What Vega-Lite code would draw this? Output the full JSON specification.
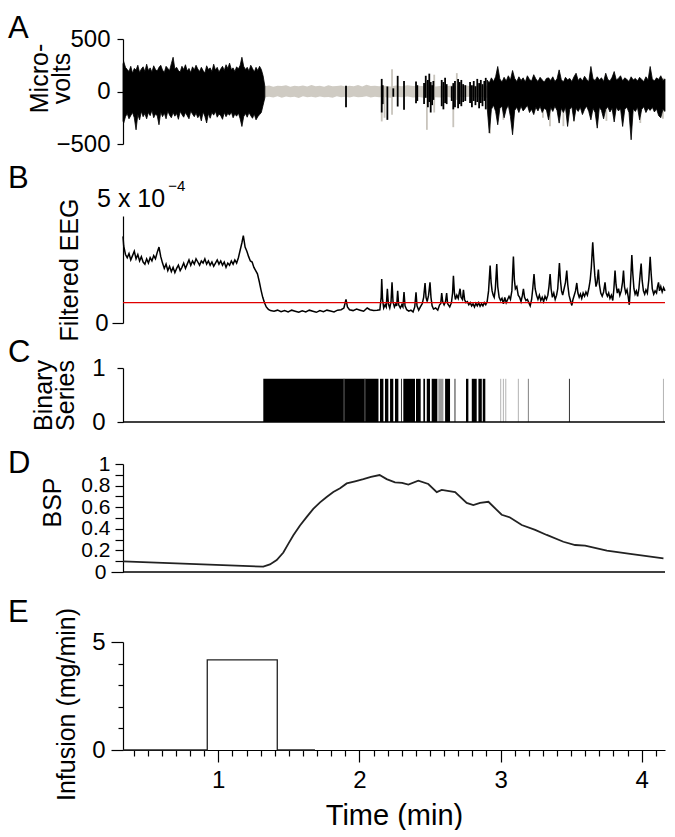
{
"$schema": "https://vega.github.io/schema/vega-lite/v6.json",
"padding": {"left": 8, "top": 13, "right": 5, "bottom": 0},
"bounds": "flush",
"spacing": 0,
"config": {
  "view": {"stroke": null},
  "font": "Liberation Sans",
  "axis": {"labelFont": "Liberation Sans", "titleFont": "Liberation Sans", "labelFontSize": 24, "titleFontSize": 25, "titleFontWeight": "normal", "labelColor": "#000", "titleColor": "#000", "domainColor": "#000", "tickColor": "#000", "domainWidth": 1.2, "tickWidth": 1.2, "grid": false, "labelOverlap": false, "labelFlush": false, "labelBound": false},
  "title": {"font": "Liberation Sans", "fontSize": 31, "fontWeight": "normal", "color": "#000", "anchor": "start", "frame": "group", "baseline": "alphabetic"}
},
"datasets": {
"band": [
{"t":1.33,"lo":-55,"hi":50},{"t":1.36,"lo":-50,"hi":58},{"t":1.39,"lo":-58,"hi":45},{"t":1.42,"lo":-45,"hi":55},{"t":1.45,"lo":-60,"hi":52},{"t":1.48,"lo":-48,"hi":60},{"t":1.51,"lo":-55,"hi":45},{"t":1.54,"lo":-50,"hi":55},{"t":1.57,"lo":-62,"hi":50},{"t":1.6,"lo":-45,"hi":58},{"t":1.63,"lo":-55,"hi":48},{"t":1.66,"lo":-50,"hi":62},{"t":1.69,"lo":-58,"hi":50},{"t":1.72,"lo":-48,"hi":55},{"t":1.75,"lo":-55,"hi":45},{"t":1.78,"lo":-52,"hi":60},{"t":1.81,"lo":-60,"hi":50},{"t":1.84,"lo":-45,"hi":52},{"t":1.87,"lo":-55,"hi":58},{"t":1.9,"lo":-50,"hi":48},{"t":1.93,"lo":-58,"hi":55},{"t":1.96,"lo":-48,"hi":50},{"t":1.99,"lo":-55,"hi":62},{"t":2.02,"lo":-52,"hi":48},{"t":2.05,"lo":-45,"hi":65},{"t":2.08,"lo":-58,"hi":52},{"t":2.11,"lo":-50,"hi":55},{"t":2.14,"lo":-55,"hi":50},{"t":2.18,"lo":-52,"hi":55},{"t":2.22,"lo":-60,"hi":48},{"t":2.26,"lo":-50,"hi":58},{"t":2.3,"lo":-55,"hi":50},{"t":2.34,"lo":-48,"hi":60},{"t":2.38,"lo":-58,"hi":52},{"t":2.42,"lo":-52,"hi":55},{"t":2.46,"lo":-60,"hi":50},{"t":2.5,"lo":-50,"hi":62},{"t":2.54,"lo":-55,"hi":48},{"t":2.58,"lo":-58,"hi":55},{"t":2.62,"lo":-50,"hi":52},{"t":2.66,"lo":-62,"hi":58},{"t":2.7,"lo":-52,"hi":50},{"t":2.74,"lo":-55,"hi":60},{"t":2.78,"lo":-50,"hi":52},{"t":2.82,"lo":-58,"hi":55},{"t":2.86,"lo":-52,"hi":58},{"t":2.9,"lo":-60,"hi":55},{"t":3.0,"lo":-60,"hi":55},{"t":3.2,"lo":-65,"hi":60},{"t":3.4,"lo":-60,"hi":58},{"t":3.6,"lo":-62,"hi":60},{"t":3.8,"lo":-58,"hi":55},{"t":4.0,"lo":-62,"hi":60},{"t":4.165,"lo":-60,"hi":58}
],
"eeg": [
{"t":2.158,"lo":-285,"hi":60,"c":"g"},{"t":2.178,"lo":-250,"hi":40,"c":"g"},{"t":2.231,"lo":-222,"hi":212,"c":"g"},{"t":2.478,"lo":-365,"hi":100,"c":"g"},{"t":2.53,"lo":-200,"hi":160,"c":"g"},{"t":2.665,"lo":-340,"hi":60,"c":"g"},{"t":2.69,"lo":-80,"hi":175,"c":"g"},{"t":2.926,"lo":-400,"hi":60,"c":"g"},{"t":3.02,"lo":-270,"hi":100,"c":"g"},{"t":3.3,"lo":-250,"hi":90,"c":"g"},{"t":3.35,"lo":-330,"hi":80,"c":"g"},{"t":3.445,"lo":-330,"hi":80,"c":"g"},{"t":3.52,"lo":-290,"hi":110,"c":"g"},{"t":3.75,"lo":-280,"hi":120,"c":"g"},{"t":3.99,"lo":-300,"hi":110,"c":"g"},{"t":4.15,"lo":-260,"hi":130,"c":"g"},
{"t":1.905,"lo":-149,"hi":54,"c":"k"},{"t":2.158,"lo":-200,"hi":120,"c":"k"},{"t":2.165,"lo":-120,"hi":60,"c":"k"},{"t":2.198,"lo":-270,"hi":48,"c":"k"},{"t":2.24,"lo":-50,"hi":30,"c":"k"},{"t":2.271,"lo":-143,"hi":149,"c":"k"},{"t":2.316,"lo":-174,"hi":101,"c":"k"},{"t":2.401,"lo":-111,"hi":95,"c":"k"},{"t":2.41,"lo":-90,"hi":60,"c":"k"},{"t":2.458,"lo":-120,"hi":80,"c":"k"},{"t":2.47,"lo":-60,"hi":150,"c":"k"},{"t":2.485,"lo":-150,"hi":110,"c":"k"},{"t":2.495,"lo":-100,"hi":170,"c":"k"},{"t":2.505,"lo":-200,"hi":90,"c":"k"},{"t":2.515,"lo":-130,"hi":60,"c":"k"},{"t":2.524,"lo":-80,"hi":100,"c":"k"},{"t":2.583,"lo":-140,"hi":110,"c":"k"},{"t":2.595,"lo":-170,"hi":90,"c":"k"},{"t":2.607,"lo":-110,"hi":130,"c":"k"},{"t":2.618,"lo":-120,"hi":70,"c":"k"},{"t":2.654,"lo":-90,"hi":50,"c":"k"},{"t":2.665,"lo":-170,"hi":80,"c":"k"},{"t":2.677,"lo":-150,"hi":100,"c":"k"},{"t":2.699,"lo":-160,"hi":120,"c":"k"},{"t":2.71,"lo":-120,"hi":90,"c":"k"},{"t":2.722,"lo":-140,"hi":110,"c":"k"},{"t":2.735,"lo":-100,"hi":70,"c":"k"},{"t":2.75,"lo":-90,"hi":60,"c":"k"},{"t":2.784,"lo":-110,"hi":90,"c":"k"},{"t":2.797,"lo":-150,"hi":60,"c":"k"},{"t":2.81,"lo":-90,"hi":100,"c":"k"},{"t":2.822,"lo":-130,"hi":50,"c":"k"},{"t":2.835,"lo":-100,"hi":120,"c":"k"},{"t":2.848,"lo":-160,"hi":80,"c":"k"},{"t":2.86,"lo":-110,"hi":110,"c":"k"},{"t":2.872,"lo":-140,"hi":70,"c":"k"},{"t":2.885,"lo":-90,"hi":100,"c":"k"},{"t":2.895,"lo":-170,"hi":130,"c":"k"}
],
"blk": [
{"seg":"s1","t":0.325,"lo":-280,"hi":260},{"seg":"s1","t":0.33,"lo":-300,"hi":285},{"seg":"s1","t":0.3425,"lo":-240,"hi":230},{"seg":"s1","t":0.355,"lo":-210,"hi":210},{"seg":"s1","t":0.3675,"lo":-260,"hi":190},{"seg":"s1","t":0.38,"lo":-230,"hi":240},{"seg":"s1","t":0.3925,"lo":-200,"hi":175},{"seg":"s1","t":0.405,"lo":-250,"hi":220},{"seg":"s1","t":0.4175,"lo":-365,"hi":205},{"seg":"s1","t":0.43,"lo":-220,"hi":250},{"seg":"s1","t":0.4425,"lo":-270,"hi":180},{"seg":"s1","t":0.455,"lo":-190,"hi":215},{"seg":"s1","t":0.4675,"lo":-240,"hi":235},{"seg":"s1","t":0.48,"lo":-210,"hi":190},{"seg":"s1","t":0.4925,"lo":-260,"hi":260},{"seg":"s1","t":0.505,"lo":-200,"hi":200},{"seg":"s1","t":0.5175,"lo":-230,"hi":225},{"seg":"s1","t":0.53,"lo":-180,"hi":185},{"seg":"s1","t":0.5425,"lo":-250,"hi":245},{"seg":"s1","t":0.555,"lo":-215,"hi":210},{"seg":"s1","t":0.5675,"lo":-230,"hi":195},{"seg":"s1","t":0.58,"lo":-317,"hi":230},{"seg":"s1","t":0.5925,"lo":-195,"hi":250},{"seg":"s1","t":0.605,"lo":-240,"hi":205},{"seg":"s1","t":0.6175,"lo":-205,"hi":180},{"seg":"s1","t":0.63,"lo":-260,"hi":240},{"seg":"s1","t":0.6425,"lo":-185,"hi":220},{"seg":"s1","t":0.655,"lo":-225,"hi":200},{"seg":"s1","t":0.6675,"lo":-250,"hi":265},{"seg":"s1","t":0.68,"lo":-200,"hi":326},{"seg":"s1","t":0.6925,"lo":-235,"hi":215},{"seg":"s1","t":0.705,"lo":-210,"hi":230},{"seg":"s1","t":0.7175,"lo":-265,"hi":200},{"seg":"s1","t":0.73,"lo":-190,"hi":185},{"seg":"s1","t":0.7425,"lo":-220,"hi":240},{"seg":"s1","t":0.755,"lo":-245,"hi":210},{"seg":"s1","t":0.7675,"lo":-200,"hi":255},{"seg":"s1","t":0.78,"lo":-230,"hi":195},{"seg":"s1","t":0.7925,"lo":-260,"hi":220},{"seg":"s1","t":0.805,"lo":-185,"hi":180},{"seg":"s1","t":0.8175,"lo":-215,"hi":235},{"seg":"s1","t":0.83,"lo":-240,"hi":205},{"seg":"s1","t":0.8425,"lo":-205,"hi":250},{"seg":"s1","t":0.855,"lo":-250,"hi":215},{"seg":"s1","t":0.8675,"lo":-220,"hi":190},{"seg":"s1","t":0.88,"lo":-280,"hi":230},{"seg":"s1","t":0.8925,"lo":-195,"hi":200},{"seg":"s1","t":0.905,"lo":-235,"hi":175},{"seg":"s1","t":0.9175,"lo":-300,"hi":245},{"seg":"s1","t":0.93,"lo":-210,"hi":210},{"seg":"s1","t":0.9425,"lo":-255,"hi":225},{"seg":"s1","t":0.955,"lo":-200,"hi":190},{"seg":"s1","t":0.9675,"lo":-225,"hi":260},{"seg":"s1","t":0.98,"lo":-190,"hi":205},{"seg":"s1","t":0.9925,"lo":-245,"hi":230},{"seg":"s1","t":1.005,"lo":-215,"hi":185},{"seg":"s1","t":1.0175,"lo":-230,"hi":215},{"seg":"s1","t":1.03,"lo":-265,"hi":240},{"seg":"s1","t":1.0425,"lo":-200,"hi":200},{"seg":"s1","t":1.055,"lo":-240,"hi":255},{"seg":"s1","t":1.0675,"lo":-210,"hi":220},{"seg":"s1","t":1.08,"lo":-225,"hi":270},{"seg":"s1","t":1.0925,"lo":-195,"hi":210},{"seg":"s1","t":1.105,"lo":-250,"hi":225},{"seg":"s1","t":1.1175,"lo":-215,"hi":190},{"seg":"s1","t":1.13,"lo":-235,"hi":235},{"seg":"s1","t":1.1425,"lo":-205,"hi":215},{"seg":"s1","t":1.155,"lo":-260,"hi":250},{"seg":"s1","t":1.1675,"lo":-333,"hi":326},{"seg":"s1","t":1.18,"lo":-240,"hi":240},{"seg":"s1","t":1.1925,"lo":-210,"hi":210},{"seg":"s1","t":1.205,"lo":-245,"hi":230},{"seg":"s1","t":1.2175,"lo":-200,"hi":195},{"seg":"s1","t":1.23,"lo":-230,"hi":250},{"seg":"s1","t":1.2425,"lo":-255,"hi":220},{"seg":"s1","t":1.255,"lo":-215,"hi":185},{"seg":"s1","t":1.2675,"lo":-270,"hi":230},{"seg":"s1","t":1.28,"lo":-240,"hi":200},{"seg":"s1","t":1.2925,"lo":-220,"hi":240},{"seg":"s1","t":1.305,"lo":-200,"hi":210},{"seg":"s1","t":1.3175,"lo":-130,"hi":150},{"seg":"s1","t":1.33,"lo":-60,"hi":50},
{"seg":"s2","t":2.905,"lo":-150,"hi":110},{"seg":"s2","t":2.92,"lo":-396,"hi":80},{"seg":"s2","t":2.935,"lo":-170,"hi":130},{"seg":"s2","t":2.95,"lo":-130,"hi":95},{"seg":"s2","t":2.965,"lo":-190,"hi":140},{"seg":"s2","t":2.98,"lo":-317,"hi":238},{"seg":"s2","t":2.995,"lo":-160,"hi":120},{"seg":"s2","t":3.01,"lo":-140,"hi":90},{"seg":"s2","t":3.025,"lo":-250,"hi":135},{"seg":"s2","t":3.04,"lo":-170,"hi":100},{"seg":"s2","t":3.055,"lo":-130,"hi":150},{"seg":"s2","t":3.07,"lo":-240,"hi":110},{"seg":"s2","t":3.085,"lo":-412,"hi":200},{"seg":"s2","t":3.1,"lo":-180,"hi":125},{"seg":"s2","t":3.115,"lo":-150,"hi":95},{"seg":"s2","t":3.13,"lo":-200,"hi":140},{"seg":"s2","t":3.145,"lo":-140,"hi":105},{"seg":"s2","t":3.16,"lo":-185,"hi":130},{"seg":"s2","t":3.175,"lo":-160,"hi":90},{"seg":"s2","t":3.19,"lo":-130,"hi":150},{"seg":"s2","t":3.205,"lo":-200,"hi":115},{"seg":"s2","t":3.22,"lo":-170,"hi":100},{"seg":"s2","t":3.235,"lo":-220,"hi":160},{"seg":"s2","t":3.25,"lo":-150,"hi":120},{"seg":"s2","t":3.265,"lo":-185,"hi":95},{"seg":"s2","t":3.28,"lo":-140,"hi":135},{"seg":"s2","t":3.295,"lo":-200,"hi":110},{"seg":"s2","t":3.31,"lo":-160,"hi":90},{"seg":"s2","t":3.325,"lo":-175,"hi":125},{"seg":"s2","t":3.34,"lo":-270,"hi":130},{"seg":"s2","t":3.355,"lo":-150,"hi":105},{"seg":"s2","t":3.37,"lo":-190,"hi":140},{"seg":"s2","t":3.385,"lo":-140,"hi":95},{"seg":"s2","t":3.4,"lo":-180,"hi":120},{"seg":"s2","t":3.415,"lo":-301,"hi":206},{"seg":"s2","t":3.43,"lo":-160,"hi":115},{"seg":"s2","t":3.445,"lo":-200,"hi":90},{"seg":"s2","t":3.46,"lo":-150,"hi":135},{"seg":"s2","t":3.475,"lo":-333,"hi":110},{"seg":"s2","t":3.49,"lo":-170,"hi":125},{"seg":"s2","t":3.505,"lo":-145,"hi":95},{"seg":"s2","t":3.52,"lo":-280,"hi":140},{"seg":"s2","t":3.535,"lo":-160,"hi":174},{"seg":"s2","t":3.55,"lo":-190,"hi":105},{"seg":"s2","t":3.565,"lo":-150,"hi":130},{"seg":"s2","t":3.58,"lo":-220,"hi":100},{"seg":"s2","t":3.595,"lo":-170,"hi":145},{"seg":"s2","t":3.61,"lo":-140,"hi":115},{"seg":"s2","t":3.625,"lo":-190,"hi":95},{"seg":"s2","t":3.64,"lo":-270,"hi":238},{"seg":"s2","t":3.655,"lo":-160,"hi":120},{"seg":"s2","t":3.67,"lo":-200,"hi":105},{"seg":"s2","t":3.685,"lo":-349,"hi":140},{"seg":"s2","t":3.7,"lo":-150,"hi":110},{"seg":"s2","t":3.715,"lo":-180,"hi":130},{"seg":"s2","t":3.73,"lo":-260,"hi":95},{"seg":"s2","t":3.745,"lo":-170,"hi":174},{"seg":"s2","t":3.76,"lo":-145,"hi":115},{"seg":"s2","t":3.775,"lo":-195,"hi":100},{"seg":"s2","t":3.79,"lo":-160,"hi":135},{"seg":"s2","t":3.805,"lo":-290,"hi":190},{"seg":"s2","t":3.82,"lo":-150,"hi":110},{"seg":"s2","t":3.835,"lo":-185,"hi":125},{"seg":"s2","t":3.85,"lo":-165,"hi":150},{"seg":"s2","t":3.865,"lo":-333,"hi":100},{"seg":"s2","t":3.88,"lo":-170,"hi":130},{"seg":"s2","t":3.895,"lo":-150,"hi":115},{"seg":"s2","t":3.91,"lo":-200,"hi":95},{"seg":"s2","t":3.925,"lo":-460,"hi":140},{"seg":"s2","t":3.94,"lo":-165,"hi":110},{"seg":"s2","t":3.955,"lo":-190,"hi":125},{"seg":"s2","t":3.97,"lo":-150,"hi":100},{"seg":"s2","t":3.985,"lo":-270,"hi":135},{"seg":"s2","t":4.0,"lo":-170,"hi":115},{"seg":"s2","t":4.015,"lo":-145,"hi":95},{"seg":"s2","t":4.03,"lo":-200,"hi":140},{"seg":"s2","t":4.045,"lo":-160,"hi":110},{"seg":"s2","t":4.06,"lo":-180,"hi":238},{"seg":"s2","t":4.075,"lo":-150,"hi":120},{"seg":"s2","t":4.09,"lo":-195,"hi":100},{"seg":"s2","t":4.105,"lo":-165,"hi":130},{"seg":"s2","t":4.12,"lo":-230,"hi":115},{"seg":"s2","t":4.135,"lo":-250,"hi":150},{"seg":"s2","t":4.15,"lo":-170,"hi":105},{"seg":"s2","t":4.165,"lo":-190,"hi":120}
],
"filt": [
{"t":0.325,"v":4.05},{"t":0.33,"v":3.6},{"t":0.3425,"v":3.2},{"t":0.355,"v":3.05},{"t":0.3675,"v":3.25},{"t":0.38,"v":2.95},{"t":0.3925,"v":3.15},{"t":0.405,"v":3.35},{"t":0.4175,"v":3.0},{"t":0.43,"v":3.2},{"t":0.4425,"v":2.9},{"t":0.455,"v":3.1},{"t":0.4675,"v":2.85},{"t":0.48,"v":2.75},{"t":0.4925,"v":3.0},{"t":0.505,"v":2.8},{"t":0.5175,"v":3.05},{"t":0.53,"v":2.9},{"t":0.5425,"v":3.15},{"t":0.555,"v":3.0},{"t":0.5675,"v":3.3},{"t":0.58,"v":3.55},{"t":0.5925,"v":3.1},{"t":0.605,"v":2.8},{"t":0.6175,"v":2.55},{"t":0.63,"v":2.75},{"t":0.6425,"v":2.45},{"t":0.655,"v":2.65},{"t":0.6675,"v":2.4},{"t":0.68,"v":2.6},{"t":0.6925,"v":2.35},{"t":0.705,"v":2.55},{"t":0.7175,"v":2.7},{"t":0.73,"v":2.45},{"t":0.7425,"v":2.6},{"t":0.755,"v":2.8},{"t":0.7675,"v":2.55},{"t":0.78,"v":2.75},{"t":0.7925,"v":2.95},{"t":0.805,"v":2.7},{"t":0.8175,"v":2.9},{"t":0.83,"v":2.75},{"t":0.8425,"v":3.0},{"t":0.855,"v":2.85},{"t":0.8675,"v":2.7},{"t":0.88,"v":2.9},{"t":0.8925,"v":2.8},{"t":0.905,"v":3.0},{"t":0.9175,"v":2.75},{"t":0.93,"v":2.9},{"t":0.9425,"v":2.7},{"t":0.955,"v":2.85},{"t":0.9675,"v":2.65},{"t":0.98,"v":2.8},{"t":0.9925,"v":2.95},{"t":1.005,"v":2.75},{"t":1.0175,"v":2.9},{"t":1.03,"v":2.7},{"t":1.0425,"v":2.85},{"t":1.055,"v":2.6},{"t":1.0675,"v":2.8},{"t":1.08,"v":2.7},{"t":1.0925,"v":2.9},{"t":1.105,"v":2.75},{"t":1.1175,"v":2.95},{"t":1.13,"v":2.8},{"t":1.1425,"v":3.05},{"t":1.155,"v":3.4},{"t":1.1675,"v":3.75},{"t":1.1775,"v":4.08},{"t":1.19,"v":3.55},{"t":1.2025,"v":3.35},{"t":1.215,"v":3.1},{"t":1.2275,"v":2.9},{"t":1.24,"v":2.85},{"t":1.2525,"v":2.6},{"t":1.265,"v":2.45},{"t":1.2775,"v":2.3},{"t":1.29,"v":1.95},{"t":1.3025,"v":1.55},{"t":1.315,"v":1.2},{"t":1.3275,"v":0.95},{"t":1.34,"v":0.75},{"t":1.355,"v":0.64},{"t":1.37,"v":0.58},
{"t":1.395,"v":0.55},{"t":1.42,"v":0.6},{"t":1.445,"v":0.53},{"t":1.47,"v":0.58},{"t":1.495,"v":0.52},{"t":1.52,"v":0.6},{"t":1.545,"v":0.55},{"t":1.57,"v":0.5},{"t":1.595,"v":0.57},{"t":1.62,"v":0.52},{"t":1.645,"v":0.6},{"t":1.67,"v":0.55},{"t":1.695,"v":0.5},{"t":1.72,"v":0.58},{"t":1.745,"v":0.53},{"t":1.77,"v":0.6},{"t":1.795,"v":0.56},{"t":1.82,"v":0.52},{"t":1.845,"v":0.6},{"t":1.87,"v":0.62},{"t":1.89,"v":0.7},{"t":1.905,"v":1.1},{"t":1.915,"v":0.75},{"t":1.93,"v":0.62},{"t":1.955,"v":0.58},{"t":1.98,"v":0.65},{"t":2.005,"v":0.6},{"t":2.03,"v":0.55},{"t":2.055,"v":0.7},{"t":2.075,"v":0.62},{"t":2.1,"v":0.58},{"t":2.125,"v":0.6},{"t":2.145,"v":0.62},
{"t":2.154,"v":1.2},{"t":2.158,"v":2.06},{"t":2.164,"v":1.1},{"t":2.172,"v":0.7},{"t":2.182,"v":0.85},{"t":2.19,"v":0.75},{"t":2.198,"v":1.6},{"t":2.205,"v":0.9},{"t":2.215,"v":0.7},{"t":2.224,"v":1.0},{"t":2.231,"v":1.9},{"t":2.238,"v":1.0},{"t":2.248,"v":0.75},{"t":2.258,"v":0.9},{"t":2.264,"v":0.8},{"t":2.271,"v":1.51},{"t":2.278,"v":0.85},{"t":2.29,"v":0.7},{"t":2.3,"v":0.85},{"t":2.308,"v":0.75},{"t":2.316,"v":1.45},{"t":2.323,"v":0.8},{"t":2.335,"v":0.62},{"t":2.35,"v":0.55},{"t":2.365,"v":0.6},{"t":2.38,"v":0.52},{"t":2.392,"v":0.75},{"t":2.401,"v":1.43},{"t":2.408,"v":0.8},{"t":2.42,"v":0.6},{"t":2.432,"v":0.75},{"t":2.445,"v":0.9},{"t":2.455,"v":1.2},{"t":2.465,"v":1.87},{"t":2.472,"v":1.2},{"t":2.48,"v":1.0},{"t":2.49,"v":1.3},{"t":2.5,"v":1.9},{"t":2.507,"v":1.2},{"t":2.515,"v":0.8},{"t":2.525,"v":0.65},{"t":2.54,"v":0.7},{"t":2.555,"v":0.6},{"t":2.568,"v":0.85},{"t":2.576,"v":0.9},{"t":2.583,"v":1.4},{"t":2.59,"v":1.0},{"t":2.6,"v":0.85},{"t":2.61,"v":1.0},{"t":2.618,"v":1.4},{"t":2.625,"v":0.9},{"t":2.64,"v":0.75},{"t":2.652,"v":0.95},{"t":2.66,"v":1.4},{"t":2.666,"v":2.21},{"t":2.673,"v":1.4},{"t":2.68,"v":1.1},{"t":2.69,"v":1.3},{"t":2.7,"v":1.15},{"t":2.713,"v":1.6},{"t":2.72,"v":1.2},{"t":2.73,"v":1.1},{"t":2.737,"v":1.55},{"t":2.745,"v":1.1},{"t":2.755,"v":0.95},{"t":2.765,"v":1.0},{"t":2.775,"v":0.85},{"t":2.785,"v":0.95},{"t":2.795,"v":0.8},{"t":2.805,"v":0.9},{"t":2.815,"v":0.75},{"t":2.825,"v":0.92},{"t":2.835,"v":0.8},{"t":2.845,"v":0.95},{"t":2.855,"v":0.78},{"t":2.865,"v":0.9},{"t":2.875,"v":0.8},{"t":2.885,"v":0.95},{"t":2.895,"v":0.85},{"t":2.905,"v":1.0},{"t":2.915,"v":1.5},{"t":2.926,"v":2.68},{"t":2.933,"v":1.9},{"t":2.94,"v":1.5},{"t":2.948,"v":1.3},{"t":2.955,"v":1.2},{"t":2.963,"v":1.6},{"t":2.973,"v":2.75},{"t":2.98,"v":1.7},{"t":2.99,"v":1.2},{"t":3.0,"v":1.05},{"t":3.01,"v":1.15},{"t":3.02,"v":0.9},{"t":3.03,"v":1.2},{"t":3.04,"v":0.95},{"t":3.05,"v":1.1},{"t":3.06,"v":1.25},{"t":3.07,"v":1.1},{"t":3.08,"v":1.5},{"t":3.091,"v":3.11},{"t":3.098,"v":2.0},{"t":3.105,"v":1.6},{"t":3.115,"v":1.7},{"t":3.125,"v":1.3},{"t":3.135,"v":1.2},{"t":3.145,"v":1.0},{"t":3.155,"v":1.3},{"t":3.162,"v":1.6},{"t":3.17,"v":1.2},{"t":3.18,"v":1.05},{"t":3.19,"v":1.1},{"t":3.2,"v":0.95},{"t":3.21,"v":0.8},{"t":3.22,"v":1.1},{"t":3.228,"v":1.6},{"t":3.237,"v":2.29},{"t":3.245,"v":1.6},{"t":3.255,"v":1.3},{"t":3.265,"v":1.1},{"t":3.275,"v":1.3},{"t":3.285,"v":1.05},{"t":3.295,"v":1.2},{"t":3.305,"v":1.0},{"t":3.315,"v":1.25},{"t":3.325,"v":1.1},{"t":3.335,"v":1.3},{"t":3.343,"v":1.7},{"t":3.351,"v":2.29},{"t":3.358,"v":1.6},{"t":3.367,"v":1.2},{"t":3.377,"v":1.4},{"t":3.387,"v":1.1},{"t":3.397,"v":1.3},{"t":3.405,"v":1.6},{"t":3.411,"v":2.2},{"t":3.417,"v":2.8},{"t":3.424,"v":2.0},{"t":3.432,"v":1.5},{"t":3.44,"v":1.3},{"t":3.45,"v":1.6},{"t":3.46,"v":1.9},{"t":3.469,"v":2.45},{"t":3.476,"v":1.8},{"t":3.485,"v":1.3},{"t":3.495,"v":1.05},{"t":3.505,"v":0.82},{"t":3.513,"v":1.1},{"t":3.522,"v":1.3},{"t":3.531,"v":1.5},{"t":3.54,"v":1.87},{"t":3.548,"v":1.4},{"t":3.557,"v":1.2},{"t":3.566,"v":1.35},{"t":3.575,"v":1.15},{"t":3.585,"v":1.4},{"t":3.595,"v":1.25},{"t":3.605,"v":1.45},{"t":3.615,"v":1.3},{"t":3.625,"v":1.6},{"t":3.635,"v":2.0},{"t":3.643,"v":2.6},{"t":3.653,"v":3.77},{"t":3.661,"v":2.9},{"t":3.668,"v":2.2},{"t":3.676,"v":1.7},{"t":3.684,"v":1.9},{"t":3.693,"v":2.5},{"t":3.7,"v":1.8},{"t":3.71,"v":1.4},{"t":3.72,"v":1.25},{"t":3.73,"v":1.45},{"t":3.74,"v":1.9},{"t":3.748,"v":1.4},{"t":3.757,"v":1.25},{"t":3.766,"v":1.4},{"t":3.775,"v":1.15},{"t":3.785,"v":1.3},{"t":3.795,"v":1.05},{"t":3.803,"v":1.6},{"t":3.811,"v":2.45},{"t":3.818,"v":1.8},{"t":3.827,"v":1.4},{"t":3.836,"v":1.6},{"t":3.845,"v":1.3},{"t":3.855,"v":1.5},{"t":3.864,"v":1.9},{"t":3.871,"v":2.45},{"t":3.878,"v":1.7},{"t":3.887,"v":1.4},{"t":3.896,"v":1.55},{"t":3.905,"v":1.2},{"t":3.912,"v":0.85},{"t":3.918,"v":1.5},{"t":3.924,"v":2.3},{"t":3.93,"v":3.18},{"t":3.937,"v":2.3},{"t":3.945,"v":1.6},{"t":3.953,"v":1.35},{"t":3.962,"v":1.5},{"t":3.971,"v":1.25},{"t":3.98,"v":1.6},{"t":3.988,"v":2.2},{"t":3.996,"v":2.78},{"t":4.003,"v":2.0},{"t":4.012,"v":1.5},{"t":4.021,"v":1.35},{"t":4.03,"v":1.55},{"t":4.04,"v":1.4},{"t":4.05,"v":2.0},{"t":4.06,"v":3.09},{"t":4.067,"v":2.3},{"t":4.075,"v":1.6},{"t":4.085,"v":1.35},{"t":4.095,"v":1.5},{"t":4.105,"v":1.4},{"t":4.112,"v":1.7},{"t":4.119,"v":1.9},{"t":4.126,"v":1.5},{"t":4.135,"v":1.7},{"t":4.145,"v":1.45},{"t":4.155,"v":1.65},{"t":4.165,"v":1.5}
],
"binint": [
{"t0":1.319,"t1":2.135,"c":"k"},{"t0":2.146,"t1":2.17,"c":"k"},{"t0":2.181,"t1":2.205,"c":"k"},{"t0":2.217,"t1":2.24,"c":"k"},{"t0":2.252,"t1":2.276,"c":"k"},{"t0":2.311,"t1":2.394,"c":"k"},{"t0":2.401,"t1":2.434,"c":"k"},{"t0":2.453,"t1":2.465,"c":"k"},{"t0":2.477,"t1":2.5,"c":"k"},{"t0":2.512,"t1":2.552,"c":"k"},{"t0":2.559,"t1":2.595,"c":"m"},{"t0":2.607,"t1":2.642,"c":"k"},{"t0":2.755,"t1":2.772,"c":"k"},{"t0":2.796,"t1":2.831,"c":"k"},{"t0":2.843,"t1":2.867,"c":"k"},{"t0":2.874,"t1":2.892,"c":"k"}
],
"binln": [
{"t":1.891,"c":"w"},{"t":2.039,"c":"w"},{"t":2.298,"c":"d"},{"t":2.677,"c":"d"},{"t":3.001,"c":"l"},{"t":3.02,"c":"l"},{"t":3.037,"c":"l"},{"t":3.126,"c":"l"},{"t":3.197,"c":"m"},{"t":3.488,"c":"d"},{"t":4.154,"c":"l"}
],
"bsp": [
{"t":0.325,"v":0.099},{"t":1.319,"v":0.049},{"t":1.366,"v":0.07},{"t":1.414,"v":0.11},{"t":1.461,"v":0.18},{"t":1.496,"v":0.26},{"t":1.532,"v":0.34},{"t":1.579,"v":0.43},{"t":1.627,"v":0.51},{"t":1.673,"v":0.585},{"t":1.721,"v":0.645},{"t":1.768,"v":0.695},{"t":1.815,"v":0.74},{"t":1.863,"v":0.775},{"t":1.91,"v":0.82},{"t":1.969,"v":0.84},{"t":2.028,"v":0.86},{"t":2.082,"v":0.88},{"t":2.143,"v":0.898},{"t":2.193,"v":0.86},{"t":2.252,"v":0.83},{"t":2.302,"v":0.825},{"t":2.347,"v":0.81},{"t":2.417,"v":0.845},{"t":2.488,"v":0.815},{"t":2.548,"v":0.74},{"t":2.583,"v":0.76},{"t":2.678,"v":0.74},{"t":2.76,"v":0.64},{"t":2.807,"v":0.62},{"t":2.855,"v":0.64},{"t":2.914,"v":0.65},{"t":3.008,"v":0.53},{"t":3.067,"v":0.505},{"t":3.15,"v":0.435},{"t":3.245,"v":0.39},{"t":3.327,"v":0.343},{"t":3.445,"v":0.28},{"t":3.528,"v":0.25},{"t":3.599,"v":0.245},{"t":3.753,"v":0.197},{"t":3.918,"v":0.167},{"t":4.154,"v":0.127}
],
"inf": [
{"i":0,"t":0.325,"v":0},{"i":1,"t":0.922,"v":0},{"i":2,"t":0.922,"v":4.17},{"i":3,"t":1.418,"v":4.17},{"i":4,"t":1.418,"v":0},{"i":5,"t":1.685,"v":0}
]
},
"vconcat": [
{
  "width": 542, "height": 155,
  "title": {"text": "A", "offset": -18, "dx": -115},
  "encoding": {
    "x": {"field": "t", "type": "quantitative", "scale": {"domain": [0.325, 4.165], "nice": false, "zero": false}, "axis": null},
    "y": {"field": "lo", "type": "quantitative", "scale": {"domain": [-500, 500], "range": [105, 0], "nice": false, "zero": false},
          "axis": {"values": [-500, 0, 500], "tickSize": 6, "labelPadding": 7, "labelOverlap": false, "title": ["Micro-", "volts"], "titlePadding": -19, "titleLineHeight": 22, "titleY": 39}},
    "y2": {"field": "hi"}
  },
  "layer": [
    {"data": {"name": "band"}, "mark": {"type": "area", "color": "#cfcbc3"}},
    {"data": {"name": "eeg"}, "mark": {"type": "rule", "strokeWidth": 1.8},
     "encoding": {"color": {"field": "c", "type": "nominal", "scale": {"domain": ["g", "k"], "range": ["#c8c4bc", "#000000"]}, "legend": null}}},
    {"data": {"name": "blk"}, "mark": {"type": "area", "color": "#000000", "stroke": "#000000", "strokeWidth": 0.8},
     "encoding": {"detail": {"field": "seg"}}}
  ]
},
{
  "width": 542, "height": 172,
  "title": {"text": "B", "offset": -16, "dx": -115},
  "layer": [
    {"data": {"name": "filt"}, "mark": {"type": "line", "color": "#000", "strokeWidth": 1.5},
     "encoding": {
       "x": {"field": "t", "type": "quantitative", "scale": {"domain": [0.325, 4.165], "nice": false, "zero": false}, "axis": null},
       "y": {"field": "v", "type": "quantitative", "scale": {"domain": [0, 5], "range": [129, 22], "nice": false, "zero": false},
             "axis": {"values": [0], "tickSize": 11, "labelPadding": 4, "labelOverlap": false, "title": "Filtered EEG", "titlePadding": 12}}
     }},
    {"data": {"values": [{}]}, "mark": {"type": "rule", "color": "#e00000", "strokeWidth": 1.3},
     "encoding": {"x": {"datum": 0.325}, "x2": {"datum": 4.165}, "y": {"datum": 0.95}}},
    {"data": {"values": [{}]}, "mark": {"type": "text", "align": "left", "baseline": "alphabetic", "fontSize": 25, "font": "Liberation Sans", "color": "#000", "text": "5 x 10"},
     "encoding": {"x": {"datum": 0.141}, "y": {"datum": 5.41}}},
    {"data": {"values": [{}]}, "mark": {"type": "text", "align": "left", "baseline": "alphabetic", "fontSize": 15, "font": "Liberation Sans", "color": "#000", "text": "−4"},
     "encoding": {"x": {"datum": 0.646}, "y": {"datum": 6.17}}}
  ]
},
{
  "width": 542, "height": 95,
  "title": {"text": "C", "offset": -13, "dx": -115},
  "layer": [
    {"data": {"name": "binint"}, "mark": {"type": "rect"},
     "encoding": {
       "x": {"field": "t0", "type": "quantitative", "scale": {"domain": [0.325, 4.165], "nice": false, "zero": false}, "axis": null},
       "x2": {"field": "t1"},
       "y": {"datum": 0, "type": "quantitative", "scale": {"domain": [0, 1], "range": [56, 2], "nice": false, "zero": false},
             "axis": {"values": [0, 1], "tickSize": 6, "labelPadding": 12, "labelOverlap": false, "labelExpr": "format(datum.value, 'd')", "title": ["Binary", "Series"], "titlePadding": 13, "titleLineHeight": 22}},
       "y2": {"datum": 0.8},
       "fill": {"field": "c", "type": "nominal", "scale": {"domain": ["k", "m"], "range": ["#000000", "#9a9a9a"]}, "legend": null}
     }},
    {"data": {"name": "binln"}, "mark": {"type": "rule", "strokeWidth": 1},
     "encoding": {
       "x": {"field": "t", "type": "quantitative"},
       "y": {"datum": 0}, "y2": {"datum": 0.8},
       "stroke": {"field": "c", "type": "nominal", "scale": {"domain": ["d", "m", "l", "w"], "range": ["#333333", "#808080", "#b3b3b3", "#666666"]}, "legend": null}
     }},
    {"data": {"values": [{}]}, "mark": {"type": "rule", "color": "#000", "strokeWidth": 1.3},
     "encoding": {"x": {"datum": 0.325}, "x2": {"datum": 4.165}, "y": {"datum": 0}}}
  ]
},
{
  "width": 542, "height": 166,
  "title": {"text": "D", "offset": -27, "dx": -115},
  "layer": [
    {"data": {"name": "bsp"}, "mark": {"type": "line", "color": "#222", "strokeWidth": 1.8},
     "encoding": {
       "x": {"field": "t", "type": "quantitative", "scale": {"domain": [0.325, 4.165], "nice": false, "zero": false}, "axis": null},
       "y": {"field": "v", "type": "quantitative", "scale": {"domain": [0, 1], "range": [111, 3], "nice": false, "zero": false},
             "axis": {"values": [0, 0.1, 0.2, 0.3, 0.4, 0.5, 0.6, 0.7, 0.8, 0.9, 1],
                      "tickSize": {"condition": {"test": "datum.value < 0.01", "value": 12}, "value": 8},
                      "labelPadding": 5, "labelOverlap": false, "labelFontSize": 21,
                      "labelExpr": "abs(datum.value*5 - round(datum.value*5)) < 0.001 ? format(datum.value, '~g') : ''",
                      "title": "BSP", "titlePadding": 15, "titleY": 41}}
     }},
    {"data": {"values": [{}]}, "mark": {"type": "rule", "color": "#000", "strokeWidth": 1.3},
     "encoding": {"x": {"datum": 0.325}, "x2": {"datum": 4.165},
       "y": {"datum": 0, "type": "quantitative",
             "axis": {"values": [0, 0.1, 0.2, 0.3, 0.4, 0.5, 0.6, 0.7, 0.8, 0.9, 1],
                      "tickSize": {"condition": {"test": "datum.value < 0.01", "value": 12}, "value": 8},
                      "labelPadding": 5, "labelOverlap": false, "labelFontSize": 21,
                      "labelExpr": "abs(datum.value*5 - round(datum.value*5)) < 0.001 ? format(datum.value, '~g') : ''",
                      "title": "BSP", "titlePadding": 15, "titleY": 41}}}}
  ]
},
{
  "width": 542, "height": 123,
  "title": {"text": "E", "offset": -22, "dx": -115},
  "data": {"name": "inf"},
  "mark": {"type": "line", "color": "#222", "strokeWidth": 1.3},
  "encoding": {
    "x": {"field": "t", "type": "quantitative", "scale": {"domain": [0.325, 4.165], "nice": false, "zero": false},
          "axis": {"values": [0.4, 0.5, 0.6, 0.7, 0.8, 0.9, 1, 1.1, 1.2, 1.3, 1.4, 1.5, 1.6, 1.7, 1.8, 1.9, 2, 2.1, 2.2, 2.3, 2.4, 2.5, 2.6, 2.7, 2.8, 2.9, 3, 3.1, 3.2, 3.3, 3.4, 3.5, 3.6, 3.7, 3.8, 3.9, 4, 4.1],
                   "tickSize": {"condition": {"test": "abs(datum.value - round(datum.value)) < 0.001", "value": 12}, "value": 6},
                   "labelExpr": "abs(datum.value - round(datum.value)) < 0.001 ? format(datum.value, 'd') : ''",
                   "labelOverlap": false, "labelPadding": 6, "title": "Time (min)", "titleFontSize": 29, "titlePadding": 9}},
    "y": {"field": "v", "type": "quantitative", "scale": {"domain": [0, 5], "range": [123, 15], "nice": false, "zero": false},
          "axis": {"values": [0, 1, 2, 3, 4, 5],
                   "tickSize": {"condition": {"test": "datum.value < 0.5 || datum.value > 4.5", "value": 12}, "value": 5},
                   "labelExpr": "datum.value == 0 || datum.value == 5 ? format(datum.value, 'd') : ''",
                   "labelOverlap": false, "labelPadding": 6, "title": "Infusion (mg/min)", "titlePadding": 12, "titleY": 77}},
    "order": {"field": "i"}
  }
}
]
}
